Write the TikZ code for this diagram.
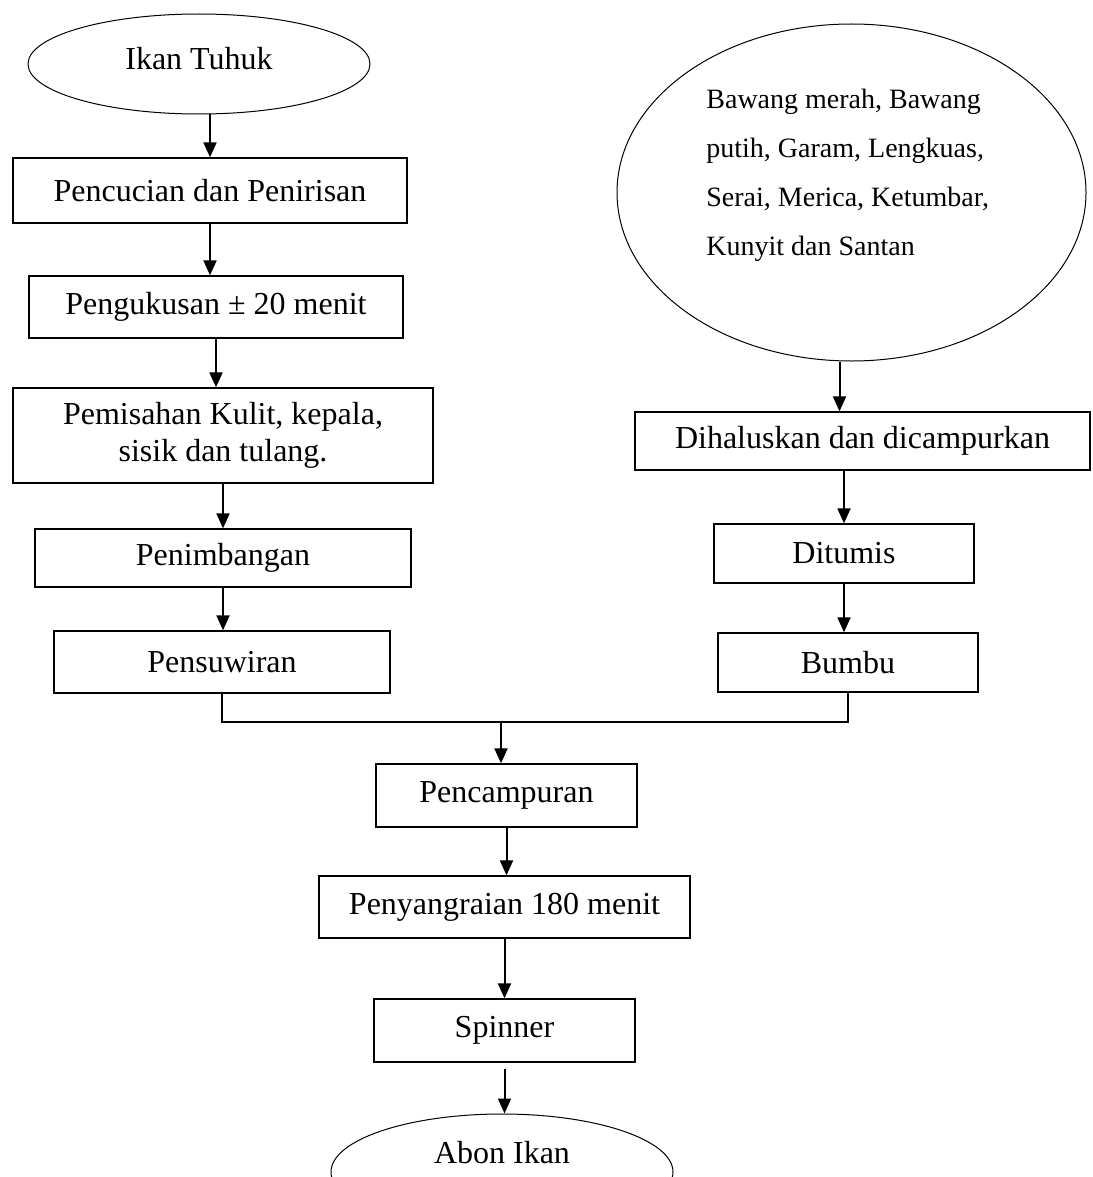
\documentclass[tikz,border=0pt]{standalone}
\usepackage{fontspec}
\setmainfont{Liberation Serif}
\usetikzlibrary{shapes.geometric,arrows.meta}

\begin{document}
\begin{tikzpicture}[x=0.5pt,y=-0.5pt,
	proses/.style={draw,line width=0.65pt,inner sep=0pt,align=center,font=\fontsize{16}{18.5}\selectfont},
	ujung/.style={draw,ellipse,line width=0.5pt,inner sep=0pt,font=\fontsize{16}{18.5}\selectfont},
	panah/.style={-{Triangle[length=7.5pt,width=6.5pt]},line width=1pt}]
	\useasboundingbox (0,0) rectangle (1092,1177);
	\coordinate (gabung) at (501,722);
	
	% jalur ikan
	\node (ikan) [ujung,minimum width=171pt,minimum height=50pt,text depth=5.5pt] at (199,64) {Ikan Tuhuk};
	\node (pencucian) [proses,minimum width=197pt,minimum height=32.5pt] at (210,190.5) {Pencucian dan Penirisan};
	\node (pengukusan) [proses,minimum width=187pt,minimum height=31pt] at (216,307) {Pengukusan ± 20 menit};
	\node (pemisahan) [proses,minimum width=210pt,minimum height=47.5pt] at (223,435.5) {Pemisahan Kulit, kepala,\\ sisik dan tulang.};
	\node (penimbangan) [proses,minimum width=188pt,minimum height=29pt] at (223,558) {Penimbangan};
	\node (pensuwiran) [proses,minimum width=168pt,minimum height=31pt] at (222,662) {Pensuwiran};
	
	% jalur bumbu
	\node (bahan) [ujung,minimum width=234.5pt,minimum height=168.5pt] at (851.5,192.5) {};
	\node (bahanteks) [anchor=north west,inner sep=0pt,align=left,font=\fontsize{14}{24.5}\selectfont] at (706,89) {Bawang merah, Bawang\\ putih, Garam, Lengkuas,\\ Serai, Merica, Ketumbar,\\ Kunyit dan Santan};
	\node (dihaluskan) [proses,minimum width=227.5pt,minimum height=29pt] at (862.5,441) {Dihaluskan dan dicampurkan};
	\node (ditumis) [proses,minimum width=130pt,minimum height=29.5pt] at (844,553.5) {Ditumis};
	\node (bumbu) [proses,minimum width=130pt,minimum height=29.5pt] at (848,662.5) {Bumbu};
	
	% jalur akhir
	\node (pencampuran) [proses,minimum width=130.5pt,minimum height=31.5pt] at (506.5,795.5) {Pencampuran};
	\node (penyangraian) [proses,minimum width=185.5pt,minimum height=31pt] at (504.5,907) {Penyangraian 180 menit};
	\node (spinner) [proses,minimum width=130.5pt,minimum height=31.5pt] at (504.5,1030.5) {Spinner};
	\node (abon) [ujung,minimum width=171pt,minimum height=58pt] at (502,1172) {};
	\node (abonteks) [inner sep=0pt,font=\fontsize{16}{18.5}\selectfont] at (502,1153) {Abon Ikan};
	
	\draw[panah] (pencucian.north |- ikan.south) -- (pencucian.north);
	\draw[panah] (pencucian.south) -- (pencucian.south |- pengukusan.north);
	\draw[panah] (pengukusan.south) -- (pengukusan.south |- pemisahan.north);
	\draw[panah] (pemisahan.south) -- (pemisahan.south |- penimbangan.north);
	\draw[panah] (penimbangan.south) -- (penimbangan.south |- pensuwiran.north);
	
	\draw[panah] ([xshift=-6pt]bahan.south) -- ([xshift=-6pt]bahan.south |- dihaluskan.north);
	\draw[panah] (ditumis.north |- dihaluskan.south) -- (ditumis.north);
	\draw[panah] (ditumis.south) -- (ditumis.south |- bumbu.north);
	
	\draw[line width=0.65pt] (pensuwiran.south) |- (gabung) -| (bumbu.south);
	\draw[panah] (gabung) -- (gabung |- pencampuran.north);
	\draw[panah] (pencampuran.south) -- (pencampuran.south |- penyangraian.north);
	\draw[panah] (penyangraian.south) -- (penyangraian.south |- spinner.north);
	\draw[panah,shorten <=3pt] (spinner.south) -- (spinner.south |- abon.north);
\end{tikzpicture}
\end{document}
